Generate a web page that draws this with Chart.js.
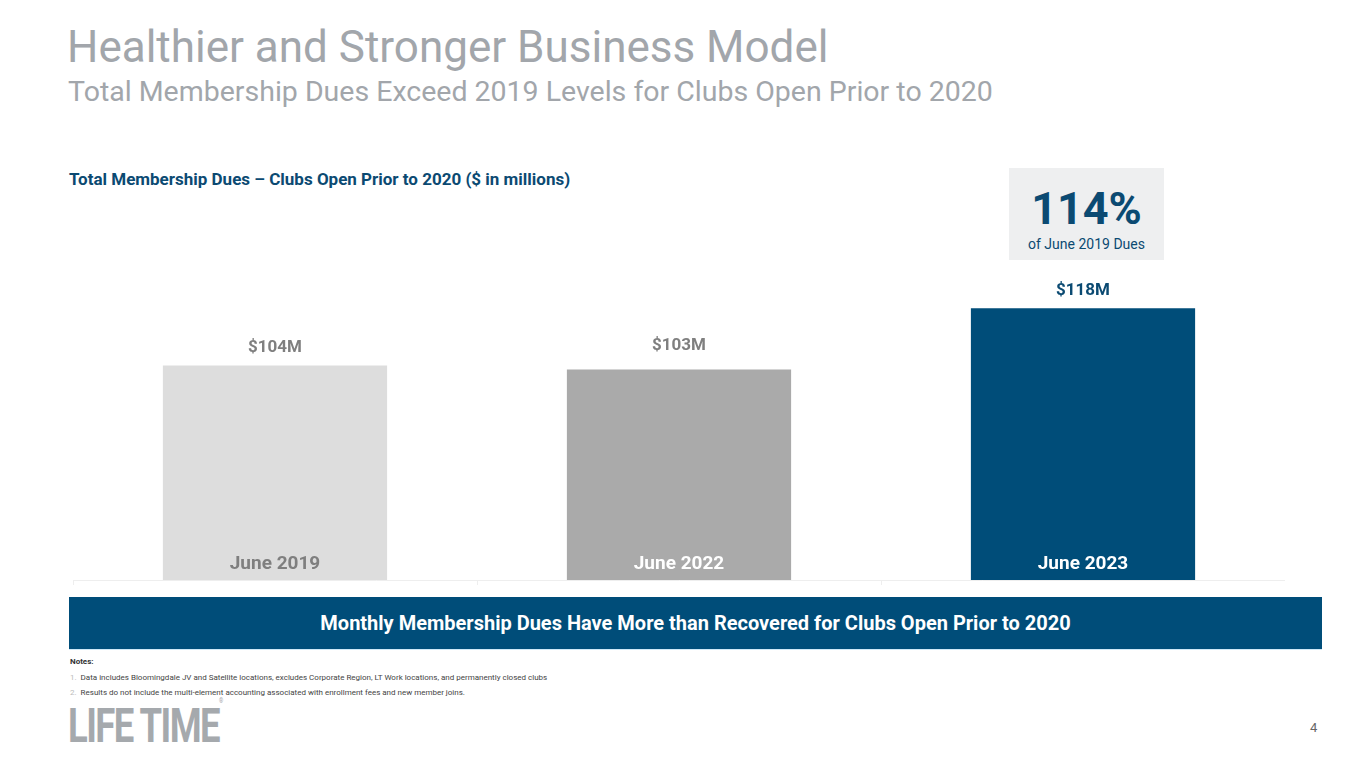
<!DOCTYPE html>
<html>
<head>
<meta charset="utf-8">
<script src="https://cdn.jsdelivr.net/npm/chart.js@4"></script>
<style>
  body { margin: 0; width: 1365px; height: 768px; background: #fff; font-family: Roboto, "Noto Sans", sans-serif; position: relative; overflow: hidden; }
  .abs { position: absolute; white-space: nowrap; }
  #title { left: 67px; top: 21px; font-size: 44px; color: #a2a6ab; }
  #subtitle { left: 68px; top: 75px; font-size: 28.5px; color: #a2a6ab; }
  #ctitle { left: 69px; top: 169px; font-size: 17px; font-weight: bold; color: #0b4a72; }
  #box { left: 1009px; top: 168px; width: 155px; height: 92px; background: #eeeff0; text-align: center; }
  #box .big { font-size: 45px; font-weight: bold; color: #0b4a72; line-height: 1; margin-top: 18px; }
  #box .small { font-size: 14px; color: #0b4a72; margin-top: 5px; }
  #chartwrap { left: 73px; top: 200px; width: 1212px; height: 385px; }
  #banner { left: 69px; top: 597px; width: 1253px; height: 52px; background: #004d79; color: #fff; font-size: 20px; font-weight: bold; text-align: center; line-height: 52px; border-bottom: 1px solid #cfe9f7; }
  .note { left: 70px; font-size: 8px; color: #444; }
  .note span { color: #bbb; margin-right: 4px; }
  #logo { left: 68px; top: 697px; font-weight: bold; font-size: 48px; color: #a5a9ad; letter-spacing: -2px; transform: scaleX(0.76); transform-origin: left; }
  #page { left: 1310px; top: 720px; font-size: 13px; color: #666; }
</style>
</head>
<body>
<div class="abs" id="title">Healthier and Stronger Business Model</div>
<div class="abs" id="subtitle">Total Membership Dues Exceed 2019 Levels for Clubs Open Prior to 2020</div>
<div class="abs" id="ctitle">Total Membership Dues – Clubs Open Prior to 2020 ($ in millions)</div>
<div class="abs" id="box"><div class="big">114%</div><div class="small">of June 2019 Dues</div></div>
<div class="abs" id="chartwrap"><canvas id="duesChart"></canvas></div>
<div class="abs" id="banner">Monthly Membership Dues Have More than Recovered for Clubs Open Prior to 2020</div>
<div class="abs note" style="top:657px;font-weight:bold;color:#333">Notes:</div>
<div class="abs note" style="top:673px"><span>1.</span>Data includes Bloomingdale JV and Satellite locations, excludes Corporate Region, LT Work locations, and permanently closed clubs</div>
<div class="abs note" style="top:688px"><span>2.</span>Results do not include the multi-element accounting associated with enrollment fees and new member joins.</div>
<div class="abs" id="logo">LIFE TIME<sup style="font-size:7px;font-weight:normal;vertical-align:top;letter-spacing:0">®</sup></div>
<div class="abs" id="page">4</div>

<script>
const periods = ["June 2019", "June 2022", "June 2023"];
const dues = [104, 103, 118];
const valueLabels = ["$104M", "$103M", "$118M"];
const barColors = ["#dddddd", "#aaaaaa", "#004d79"];
const valueColors = ["#7f7f7f", "#7f7f7f", "#0b4a72"];
const periodColors = ["#7f7f7f", "#ffffff", "#ffffff"];

const barText = {
  id: "barText",
  afterDatasetsDraw(chart) {
    const ctx = chart.ctx;
    const meta = chart.getDatasetMeta(0);
    const bottom = chart.chartArea.bottom;
    ctx.save();
    ctx.textAlign = "center";
    meta.data.forEach((bar, i) => {
      const p = bar.getProps(["x", "y"], true);
      ctx.font = "bold 17px Roboto";
      ctx.fillStyle = valueColors[i];
      ctx.textBaseline = "bottom";
      ctx.fillText(valueLabels[i], p.x, p.y - (i === 1 ? 15 : 9));
      ctx.font = "bold 19px Roboto";
      ctx.fillStyle = periodColors[i];
      ctx.textBaseline = "middle";
      ctx.fillText(periods[i], p.x, bottom - 16);
    });
    ctx.restore();
  }
};

new Chart(document.getElementById("duesChart").getContext("2d"), {
  type: "bar",
  data: {
    labels: periods,
    datasets: [{
      data: dues,
      backgroundColor: barColors,
      categoryPercentage: 0.555,
      barPercentage: 1
    }]
  },
  options: {
    responsive: true,
    maintainAspectRatio: false,
    animation: false,
    layout: { padding: 0 },
    plugins: { legend: { display: false }, tooltip: { enabled: false } },
    scales: {
      x: {
        ticks: { display: false },
        grid: { drawOnChartArea: false, drawTicks: true, tickLength: 5, color: "#eeeeee", offset: true },
        border: { color: "#eeeeee" }
      },
      y: { display: false, min: 51.5, max: 144.5 }
    }
  },
  plugins: [barText]
});
</script>
</body>
</html>
